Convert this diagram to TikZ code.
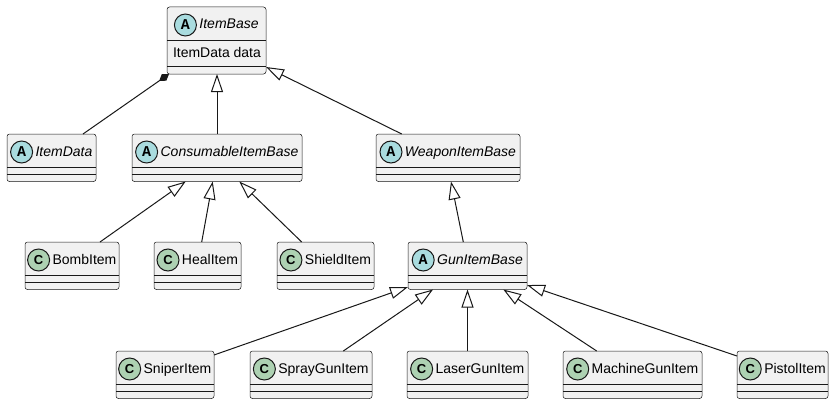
\documentclass[tikz,border=0pt]{standalone}
\usepackage{fontspec}
\setmainfont{Liberation Sans}
\newfontfamily\iconmono{Liberation Mono}
\usetikzlibrary{arrows.meta,calc}
\definecolor{boxfill}{HTML}{F1F1F1}
\definecolor{ink}{HTML}{181818}
\definecolor{absfill}{HTML}{A9DCDF}
\definecolor{clsfill}{HTML}{ADD1B2}
\tikzset{
  classbox/.style={draw=ink, line width=0.5pt, fill=boxfill, rounded corners=2.5pt, inner sep=0pt, outer sep=0pt},
  sepline/.style={draw=ink, line width=0.5pt},
  nametext/.style={inner sep=0pt, outer sep=0pt, text=black},
  iconbase/.style={circle, draw=ink, line width=1pt, minimum size=22pt, inner sep=0pt, text=black},
  absicon/.style={iconbase, fill=absfill, font=\iconmono\bfseries\fontsize{15}{15}\selectfont},
  clsicon/.style={iconbase, fill=clsfill, font=\bfseries\fontsize{13}{13}\selectfont},
  edge/.style={draw=ink, line width=1pt},
  inherit/.style={edge, -{Triangle[open, length=18pt, width=12pt, fill=white]}},
  compose/.style={edge, -{Diamond[length=12pt, width=8pt, fill=ink]}},
}
% name, left, top, right, height, iconstyle, letter, label
\newcommand{\umlclass}[8]{%
  \pgfmathsetmacro{\ucx}{(#2+#4)/2}%
  \pgfmathsetmacro{\ucw}{#4-#2}%
  \pgfmathsetmacro{\ucy}{#3+#5/2}%
  \node[classbox, minimum width=\ucw pt, minimum height=#5 pt] (#1) at (\ucx,\ucy) {};
  \node[nametext, anchor=base] (#1-name) at (\ucx+12.5, #3+22) {#8};
  \node[#6] (#1-icon) at ([xshift=-14pt,yshift=4pt]#1-name.base west) {#7};
  \draw[sepline] (#2,#3+33) -- (#4,#3+33);
  \draw[sepline] (#2,#3+#5-7.5) -- (#4,#3+#5-7.5);
}
\begin{document}
\begin{tikzpicture}[x=1pt, y=-1pt, font=\fontsize{14}{16}\selectfont]
\path[fill=white] (0,0) rectangle (834,404);
\useasboundingbox (0,0) rectangle (834,404);

\umlclass{ib}{167}{7}{266}{67}{absicon}{A}{\itshape ItemBase}
\node[nametext, anchor=base west] (ib-attr) at (173,57) {ItemData data};

\umlclass{idata}{7}{134}{96}{47.5}{absicon}{A}{\itshape ItemData}
\umlclass{cib}{132}{134}{302}{47.5}{absicon}{A}{\itshape ConsumableItemBase}
\umlclass{wib}{376}{134}{520}{47.5}{absicon}{A}{\itshape WeaponItemBase}

\umlclass{bomb}{25}{242}{119}{47.5}{clsicon}{C}{BombItem}
\umlclass{heal}{154}{242}{241}{47.5}{clsicon}{C}{HealItem}
\umlclass{shield}{277}{242}{374}{47.5}{clsicon}{C}{ShieldItem}
\umlclass{gib}{408}{242}{527}{47.5}{absicon}{A}{\itshape GunItemBase}

\umlclass{sniper}{116}{351}{214}{47.5}{clsicon}{C}{SniperItem}
\umlclass{spray}{250}{351}{372}{47.5}{clsicon}{C}{SprayGunItem}
\umlclass{laser}{407}{351}{528}{47.5}{clsicon}{C}{LaserGunItem}
\umlclass{machine}{563}{351}{702}{47.5}{clsicon}{C}{MachineGunItem}
\umlclass{pistol}{737}{351}{828}{47.5}{clsicon}{C}{PistolItem}

\draw[compose] ([xshift=31.5pt]idata.north) -- ([xshift=-47.5pt]ib.south);
\draw[inherit] (cib.north) -- (cib.north |- ib.south);
\draw[inherit] ([xshift=-46.3pt]wib.north) -- ([yshift=7pt]ib.south east);
\draw[inherit] ([xshift=28pt]bomb.north) -- ([xshift=-31.3pt]cib.south);
\draw[inherit] ([xshift=4.2pt]heal.north) -- ([xshift=-4.3pt]cib.south);
\draw[inherit] ([xshift=-23.8pt]shield.north) -- ([xshift=22.3pt]cib.south);
\draw[inherit] ([xshift=-4.2pt]gib.north) -- ([xshift=3pt]wib.south);
\draw[inherit] ([yshift=-4pt]sniper.north east) -- ([yshift=2.5pt]gib.south west);
\draw[inherit] ([xshift=32.3pt]spray.north) -- ([xshift=-34.5pt]gib.south);
\draw[inherit] (laser.north) -- (laser.north |- gib.south);
\draw[inherit] ([xshift=-35.8pt]machine.north) -- ([xshift=35.8pt]gib.south);
\draw[inherit] ([yshift=-5pt]pistol.north west) -- ([yshift=4.5pt]gib.south east);
\end{tikzpicture}
\end{document}
